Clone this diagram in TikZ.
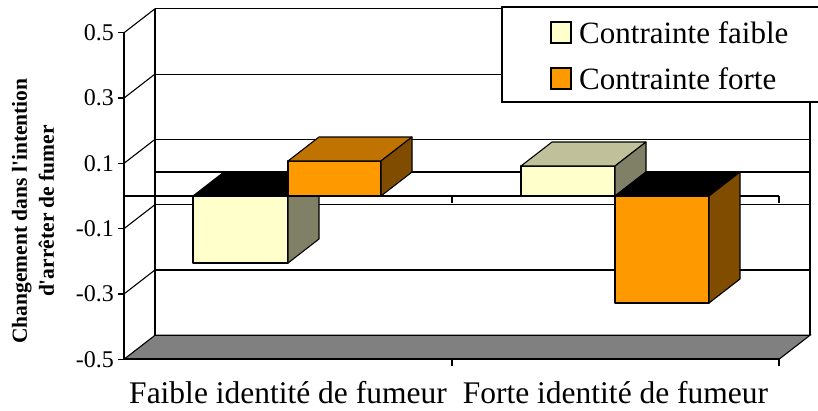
\documentclass[tikz,border=0pt]{standalone}
\usepackage{fontspec}
\setmainfont{Liberation Serif}[Ligatures=TeXOff]
\definecolor{paleyellow}{RGB}{255,255,204}
\definecolor{paleyellowtop}{RGB}{192,192,154}
\definecolor{paleyellowside}{RGB}{128,128,102}
\definecolor{barorange}{RGB}{255,153,0}
\definecolor{barorangetop}{RGB}{192,115,0}
\definecolor{barorangeside}{RGB}{128,77,0}
\definecolor{floorgray}{RGB}{128,128,128}
\tikzset{
  gridline/.style={draw=black, line width=1.1pt},
  axisline/.style={draw=black, line width=1.3pt},
  face/.style={draw=black, line width=1.1pt, line join=round},
  ticklabel/.style={anchor=east, inner sep=0pt, font=\fontsize{24}{26}\selectfont},
  catlabel/.style={inner sep=0pt, font=\fontsize{31.5}{36}\selectfont},
  legendlabel/.style={anchor=west, inner sep=0pt, font=\fontsize{31}{35}\selectfont},
}
\begin{document}
\begin{tikzpicture}[x=1pt, y=-1pt]
  \clip (0,0) rectangle (818,410);
  \fill[white] (0,0) rectangle (818,410);

  % back wall: gridlines and its two vertical edges
  \foreach \v in {0.5,0.3,0.1,0,-0.1,-0.3}
    \draw[gridline] (155,{172-326.5*\v}) -- (810,{172-326.5*\v});
  \draw[gridline] (155,8.75) -- (155,335.25);
  \draw[gridline] (810,8.75) -- (810,335.25);

  % side wall: gridlines running back from the value axis
  \foreach \v in {0.5,0.3,0.1,-0.1,-0.3}
    \draw[gridline] (124,{196-326.5*\v}) -- (155,{172-326.5*\v});

  % floor
  \fill[floorgray] (124,359.25) -- (779,359.25) -- (810,335.25) -- (155,335.25) -- cycle;
  \draw[gridline] (124,359.25) -- (155,335.25) -- (810,335.25) -- (779,359.25);
  \draw[black, line width=2pt] (124,359.25) -- (779,359.25);

  % category axis at zero
  \draw[gridline] (124,196) -- (779,196);
  \draw[gridline] (452,196) -- (452,203);
  \draw[gridline] (779,196) -- (779,203);

  % Faible identite: contrainte faible (negative)
  \filldraw[face, fill=paleyellow] (193,196) rectangle (288,263);
  \filldraw[face, fill=black] (193,196) -- (288,196) -- (319,172) -- (224,172) -- cycle;
  \filldraw[face, fill=paleyellowside] (288,196) -- (319,172) -- (319,239) -- (288,263) -- cycle;
  % Faible identite: contrainte forte (positive)
  \filldraw[face, fill=barorange] (288,161) rectangle (381,196);
  \filldraw[face, fill=barorangetop] (288,161) -- (381,161) -- (412,137) -- (319,137) -- cycle;
  \filldraw[face, fill=barorangeside] (381,161) -- (412,137) -- (412,172) -- (381,196) -- cycle;

  % Forte identite: contrainte faible (positive)
  \filldraw[face, fill=paleyellow] (521,166) rectangle (615,196);
  \filldraw[face, fill=paleyellowtop] (521,166) -- (615,166) -- (646,142) -- (552,142) -- cycle;
  \filldraw[face, fill=paleyellowside] (615,166) -- (646,142) -- (646,172) -- (615,196) -- cycle;
  % Forte identite: contrainte forte (negative)
  \filldraw[face, fill=barorange] (615,196) rectangle (709,303);
  \filldraw[face, fill=black] (615,196) -- (709,196) -- (740,172) -- (646,172) -- cycle;
  \filldraw[face, fill=barorangeside] (709,196) -- (740,172) -- (740,279) -- (709,303) -- cycle;

  % value axis with ticks
  \draw[axisline] (124,32.75) -- (124,359.25);
  \foreach \v in {0.5,0.3,0.1,-0.1,-0.3,-0.5}
    \draw[axisline] (118,{196-326.5*\v}) -- (124,{196-326.5*\v});
  \draw[axisline] (452,359.25) -- (452,366);
  \draw[axisline] (779,359.25) -- (779,366);

  % value axis labels
  \node[ticklabel] (t5)  at (114,32.75)  {0.5};
  \node[ticklabel] (t3)  at (114,98)     {0.3};
  \node[ticklabel] (t1)  at (114,163.35) {0.1};
  \node[ticklabel] (tm1) at (114,228.65) {-0.1};
  \node[ticklabel] (tm3) at (114,294)    {-0.3};
  \node[ticklabel] (tm5) at (114,359.25) {-0.5};

  % value axis title
  \node[rotate=90, align=center, inner sep=0pt,
        font=\fontsize{21.5}{27}\selectfont\bfseries] (ytitle) at (33,211)
        {Changement dans l'intention\\d'arrêter de fumer};

  % category labels
  \node[catlabel] (c1) at (288,393) {Faible identité de fumeur};
  \node[catlabel] (c2) at (615.5,393) {Forte identité de fumeur};

  % legend
  \filldraw[draw=black, line width=1.3pt, fill=white] (502,7) rectangle (830,102);
  \filldraw[draw=black, line width=1.1pt, fill=paleyellow] (551,22) rectangle (571,43);
  \filldraw[draw=black, line width=1.1pt, fill=barorange] (551,68) rectangle (571,89);
  \node[legendlabel] (l1) at (579,33) {Contrainte faible};
  \node[legendlabel] (l2) at (579,79) {Contrainte forte};
\end{tikzpicture}
\end{document}
